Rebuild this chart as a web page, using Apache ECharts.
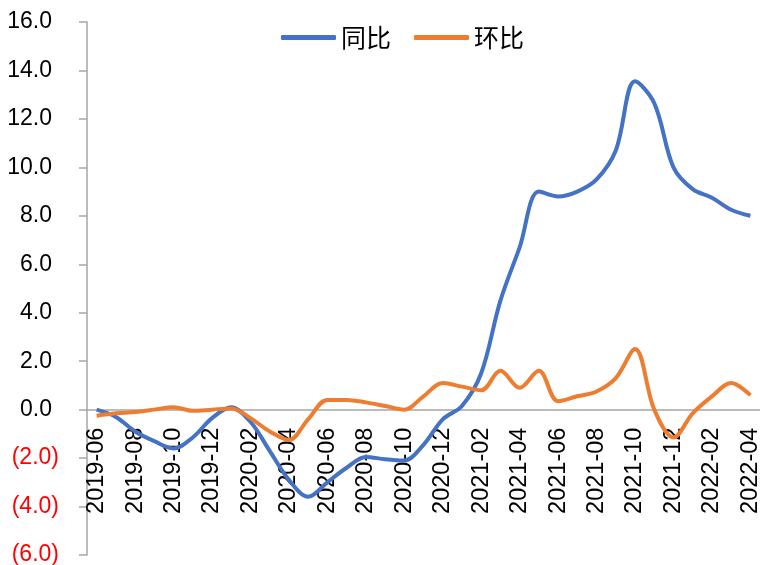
<!DOCTYPE html>
<html>
<head>
<meta charset="utf-8">
<script src="https://cdn.jsdelivr.net/npm/echarts@6/dist/echarts.min.js"></script>
<style>
  html, body { margin: 0; padding: 0; background: #fff; }
  #chart { width: 760px; height: 565px; }
</style>
</head>
<body>
<div id="chart"></div>
<script>
// 月份
var months = ['2019-06','2019-07','2019-08','2019-09','2019-10','2019-11','2019-12',
  '2020-01','2020-02','2020-03','2020-04','2020-05','2020-06','2020-07','2020-08',
  '2020-09','2020-10','2020-11','2020-12','2021-01','2021-02','2021-03','2021-04',
  '2021-05','2021-06','2021-07','2021-08','2021-09','2021-10','2021-11','2021-12',
  '2022-01','2022-02','2022-03','2022-04'];
// 同比
var yoy = [0.0, -0.3, -0.9, -1.3, -1.6, -1.15, -0.35, 0.1, -0.5, -1.7, -2.9, -3.6,
  -3.0, -2.4, -1.95, -2.05, -2.1, -1.45, -0.4, 0.15, 1.5, 4.5, 6.7, 9.0, 8.8,
  9.0, 9.5, 10.7, 13.55, 12.65, 10.0, 9.1, 8.75, 8.25, 8.0];
// 环比
var mom = [-0.25, -0.15, -0.1, 0.0, 0.1, -0.05, 0.0, 0.05, -0.35, -0.9, -1.25, -0.4,
  0.4, 0.4, 0.3, 0.15, 0.0, 0.55, 1.1, 0.95, 0.8, 1.6, 0.9, 1.6, 0.35,
  0.55, 0.75, 1.3, 2.5, 0.0, -1.15, -0.15, 0.55, 1.1, 0.6];

var yMin = -6, yMax = 16;
var gridTop = 22, gridBottom = 10, chartH = 565;
// 0轴离底边的距离，用来把标签挪到0轴下面
var plotH = chartH - gridTop - gridBottom;
var zeroOffset = -plotH * (0 - yMin) / (yMax - yMin);

var myChart = echarts.init(document.getElementById('chart'));

var option = {
  animation: false,
  color: ['#4472C4', '#ED7D31'],
  legend: {
    left: 276,
    top: 20,
    itemWidth: 55,
    itemHeight: 5,
    itemGap: 23,
    icon: 'roundRect',
    textStyle: {
      fontFamily: 'Noto Sans CJK SC',
      fontSize: 25,
      color: '#000'
    },
    data: ['同比', '环比']
  },
  grid: {
    left: 87,
    right: 0,
    top: gridTop,
    bottom: gridBottom,
    outerBoundsMode: 'none'
  },
  xAxis: [
    {
      type: 'category',
      data: months,
      boundaryGap: true,
      axisLine: {
        onZero: true,
        lineStyle: { color: '#A6A6A6', width: 1.5 }
      },
      axisTick: { show: false },
      axisLabel: { show: false }
    },
    {
      // 只画刻度和标签，放在0轴下方
      type: 'category',
      data: months,
      position: 'bottom',
      offset: zeroOffset,
      boundaryGap: true,
      axisLine: { show: false, onZero: false },
      axisTick: {
        interval: 1,
        length: 8,
        lineStyle: { color: '#A6A6A6', width: 1.5 }
      },
      axisLabel: {
        interval: 1,
        rotate: 90,
        margin: 18,
        fontFamily: 'Liberation Sans',
        fontSize: 23.5,
        color: '#000'
      }
    }
  ],
  yAxis: {
    type: 'value',
    min: yMin,
    max: yMax,
    interval: 2,
    splitLine: { show: false },
    axisLine: {
      show: true,
      lineStyle: { color: '#A6A6A6', width: 1.5 }
    },
    axisTick: {
      show: true,
      length: 8,
      lineStyle: { color: '#A6A6A6', width: 1.5 }
    },
    axisLabel: {
      margin: 28,
      fontFamily: 'Liberation Sans',
      fontSize: 23,
      formatter: function (v) {
        // 负数用括号红字
        if (v < 0) return '{neg|(' + (-v).toFixed(1) + ')}';
        return '{pos|' + v.toFixed(1) + '}';
      },
      rich: {
        neg: { color: '#FF0000', fontFamily: 'Liberation Sans', fontSize: 23 },
        pos: { color: '#000', fontFamily: 'Liberation Sans', fontSize: 23, padding: [0, 7, 0, 0] }
      }
    }
  },
  series: [
    {
      name: '同比',
      type: 'line',
      data: yoy,
      smooth: 0.35,
      symbol: 'none',
      lineStyle: { width: 4 }
    },
    {
      name: '环比',
      type: 'line',
      data: mom,
      smooth: 0.35,
      symbol: 'none',
      lineStyle: { width: 4 }
    }
  ]
};

myChart.setOption(option);
</script>
</body>
</html>
